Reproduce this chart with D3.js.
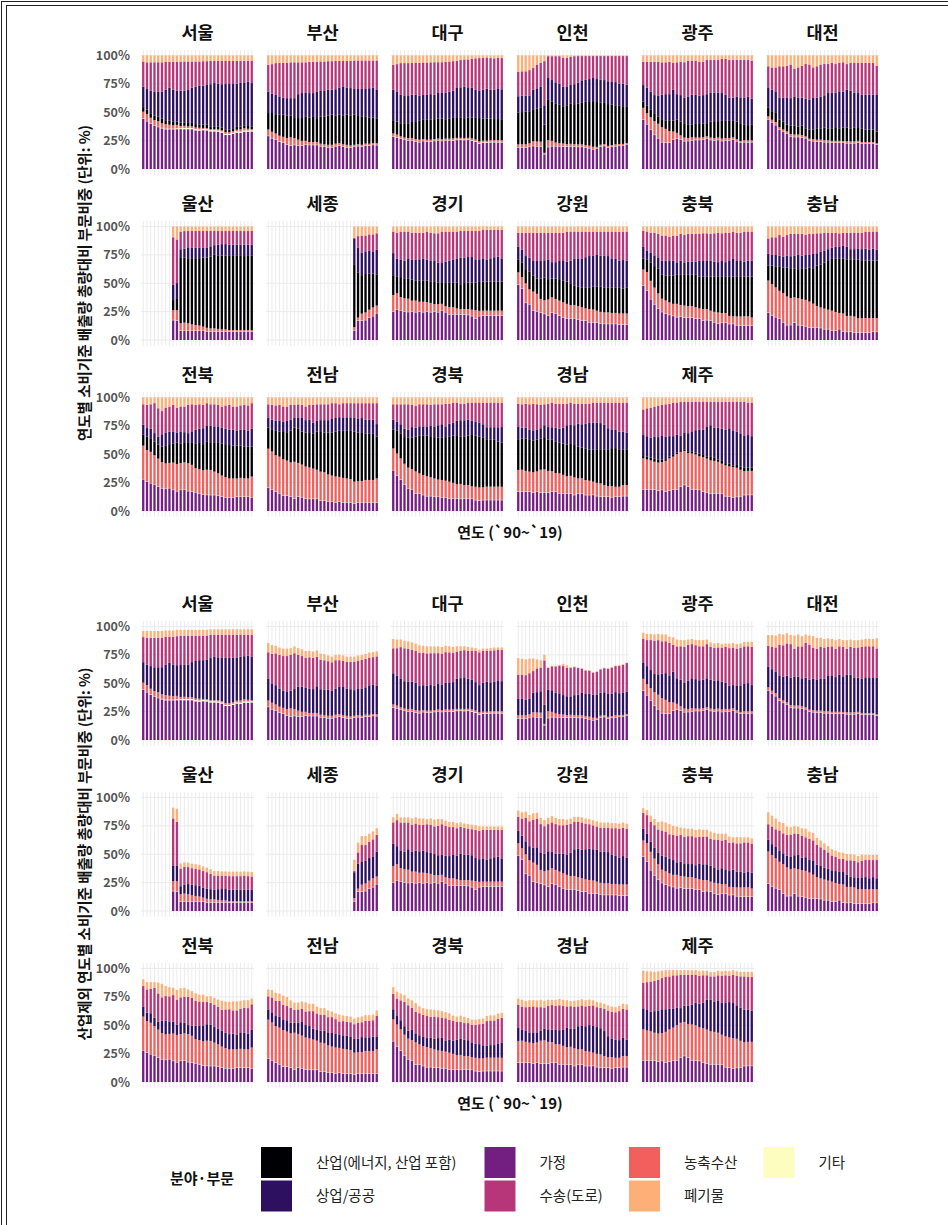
<!DOCTYPE html>
<html><head><meta charset="utf-8">
<script src="https://cdn.jsdelivr.net/npm/d3@7"></script>
<style>
body{margin:0;background:#fff}
svg text{font-family:"Noto Sans CJK KR","Noto Sans",sans-serif}
</style></head>
<body><svg id="c" width="948" height="1225"></svg>
<script>
const regions = ["서울","부산","대구","인천","광주","대전","울산","세종","경기","강원","충북","충남","전북","전남","경북","경남","제주"];
const years = [1990,1991,1992,1993,1994,1995,1996,1997,1998,1999,2000,2001,2002,2003,2004,2005,2006,2007,2008,2009,2010,2011,2012,2013,2014,2015,2016,2017,2018,2019];
const yTicks = [0,25,50,75,100];
const yTickLabels = ["0%","25%","50%","75%","100%"];
const legendNames = ["산업(에너지, 산업 포함)","상업/공공","가정","수송(도로)","농축수산","폐기물","기타"];
const legendColors = ["#000004","#2D1160","#721F81","#B63679","#F1605D","#FEAF77","#FCFDBF"];
const N = null;

// 가정
const household = [
[44,42,40,38,37,36,35,35,35,35,35,35,35,35,34,34,34,34,33,33,33,32,30,30,31,32,32,33,33,33],
[29,27,26,24,23,21.5,20.5,21,20.5,20.5,21.5,21,21,21,20,19.5,19,19,20,20.5,19.5,19,18.5,19.5,20,19.5,20.5,20.5,21,21],
[28.5,27.5,26.5,25.5,25,25,24,23.5,24.5,24,24,24.5,25,24.5,25,25,25,25.5,25.5,25.5,25.5,25,24,22.5,23,23,23.5,23.5,23.5,23.5],
[19,19,19,19.5,20,20,20,13,19.5,20,20,20,20,19.5,19.5,19.5,19,19,18.5,18,17,17.5,19.5,20,18.5,19.5,20,20.5,21,21.5],
[43.5,39.5,34.5,30,27,23.5,23,23,25.5,26.5,26,24.5,24.5,25,25.5,25.5,26,26.5,25.5,25,25.5,24.5,25,25,25.5,24.5,23,23.5,23.5,23.5],
[43.5,40.5,38.5,34.5,32.5,31,28.5,28,28,27.5,27,25,24.5,24,24,23.5,23.5,23,23,23,23,22.5,22.5,22.5,23,22,22.5,22.5,22.5,21.5],
[N,N,N,N,N,N,N,N,17.5,17,8,8,8,8,8,8,8,7.5,7.5,7.5,7.5,7.5,7.5,7.5,7.5,7.5,7.5,7.5,7.5,7.5],
[N,N,N,N,N,N,N,N,N,N,N,N,N,N,N,N,N,N,N,N,N,N,N,8.5,17,17,17.5,19.5,21,23.5],
[25,26.5,26,25,24.5,25,24.5,25,24.5,25,24.5,25,24.5,25.5,24.5,22.5,22.5,22.5,22.5,22.5,22,21,19,21,21.5,21.5,21.5,21.5,21.5,21.5],
[49,45,32.5,31.5,26,25,24,23,21.5,24,23.5,21.5,20,19,18.5,19,18,17,17,15.5,15.5,15,14.5,14,14,14,14,13.5,13.5,13.5],
[48,43.5,36,31.5,27.5,24.5,23,22,21,20,20.5,19.5,19.5,19.5,18.5,18.5,17,17.5,17,15.5,14.5,15,15,14,14,13,12.5,12.5,12.5,12.5],
[24,21.5,20,18.5,15.5,13,13,15,13,12.5,12,11,11,11,10.5,9.5,9.5,8,8,9.5,7.5,7,7.5,6.5,6.5,6.5,6.5,6.5,7,7],
[28,26,24.5,23.5,21.5,20,19.5,20,18.5,17.5,18.5,18.5,17.5,17,16.5,15.5,14.5,14,14,14,13.5,12.5,12,12,12,12.5,12.5,12.5,12.5,12],
[20.5,18.5,17,15.5,13.5,13.5,12.5,11,12.5,12,11,10.5,10.5,10.5,9,9,8,8,7.5,8,7.5,7.5,7.5,6.5,7.5,7.5,7.5,7.5,7.5,7.5],
[36,31,27.5,23,20,18.5,15,15.5,14,13,13,12.5,12.5,12,12,11,11,11,10.5,11,11,10.5,9.5,9,9.5,9.5,9.5,9.5,9.5,9.5],
[17,17,17,17,16,17,16,16,16,17,17,15.5,15.5,15.5,15,14,15,15,14,14,14,13,12.5,12.5,12.5,12,12.5,12.5,13,13],
[19,18.5,19,18.5,18,18.5,17,18,18.5,19,21.5,23,21.5,19,19,18.5,17,16,15,15.5,15.5,15,13,12.5,12,12.5,13,14,14,14]
];
// 기타
const other = [
[0.3,0.3,0.3,0.3,0.3,0.5,0.5,0.5,0.5,0.8,0.8,1,1,1,1,1,1,1,1,1,1,1,1,1,1,1,1,1,1,1],
[0.3,0.3,0.3,0.3,0.3,0.3,0.3,0.3,0.3,0.3,0.3,0.3,0.3,0.3,0.3,0.3,0.3,0.3,0.3,0.3,0.3,0.3,0.3,0.3,0.3,0.3,0.3,0.3,0.3,0.3],
[0.3,0.3,0.3,0.3,0.3,0.3,0.3,0.3,0.3,0.3,0.3,0.3,0.3,0.3,0.3,0.3,0.5,0.5,0.5,0.5,0.5,0.5,0.5,0.5,0.5,0.5,0.5,0.5,0.5,0.5],
[0.3,0.3,0.3,0.3,0.3,0.3,0.3,0.3,0.3,0.3,0.3,0.3,0.3,0.3,0.3,0.3,0.3,0.3,0.3,0.3,0.3,0.3,0.3,0.3,0.3,0.3,0.3,0.3,0.3,0.3],
[0.3,0.3,0.3,0.3,0.3,0.3,0.3,0.3,0.3,0.3,0.3,0.3,0.3,0.3,0.3,0.3,0.3,0.3,0.3,0.3,0.3,0.3,0.3,0.3,0.3,0.3,0.3,0.3,0.3,0.3],
[0.3,0.3,0.3,0.3,0.3,0.3,0.3,0.3,0.3,0.3,0.3,0.3,0.3,0.3,0.3,0.3,0.3,0.3,0.3,0.3,0.3,0.3,0.3,0.3,0.3,0.3,0.3,0.3,0.3,0.3],
[N,N,N,N,N,N,N,N,0.3,0.3,0.3,0.3,0.3,0.3,0.3,0.3,0.3,0.3,0.3,0.3,0.3,0.3,0.3,0.3,0.3,0.3,0.3,0.3,0.3,0.3],
[N,N,N,N,N,N,N,N,N,N,N,N,N,N,N,N,N,N,N,N,N,N,N,0.3,0.3,0.3,0.3,0.3,0.3,0.3],
[0.3,0.3,0.3,0.3,0.3,0.3,0.3,0.3,0.3,0.3,0.3,0.3,0.3,0.3,0.3,0.3,0.3,0.3,0.3,0.3,0.3,0.3,0.3,0.3,0.3,0.3,0.3,0.3,0.3,0.3],
[0.3,0.3,0.3,0.3,0.3,0.3,0.3,0.3,0.3,0.3,0.3,0.3,0.3,0.3,0.3,0.3,0.3,0.3,0.3,0.3,0.3,0.3,0.3,0.3,0.3,0.3,0.3,0.3,0.3,0.3],
[0.3,0.3,0.3,0.3,0.3,0.3,0.3,0.3,0.3,0.3,0.3,0.3,0.3,0.3,0.3,0.3,0.3,0.3,0.3,0.3,0.3,0.3,0.3,0.3,0.3,0.3,0.3,0.3,0.3,0.3],
[0.3,0.3,0.3,0.3,0.3,0.3,0.3,0.3,0.3,0.3,0.3,0.3,0.3,0.3,0.3,0.3,0.3,0.3,0.3,0.3,0.3,0.3,0.3,0.3,0.3,0.3,0.3,0.3,0.3,0.3],
[0.3,0.3,0.3,0.3,0.3,0.3,0.3,0.3,0.3,0.3,0.3,0.3,0.3,0.3,0.3,0.3,0.3,0.3,0.3,0.3,0.3,0.3,0.3,0.3,0.3,0.3,0.3,0.3,0.3,0.3],
[0.3,0.3,0.3,0.3,0.3,0.3,0.3,0.3,0.3,0.3,0.3,0.3,0.3,0.3,0.3,0.3,0.3,0.3,0.3,0.3,0.3,0.3,0.3,0.3,0.3,0.3,0.3,0.3,0.3,0.3],
[0.3,0.3,0.3,0.3,0.3,0.3,0.3,0.3,0.3,0.3,0.3,0.3,0.3,0.3,0.3,0.3,0.3,0.3,0.3,0.3,0.3,0.3,0.3,0.3,0.3,0.3,0.3,0.3,0.3,0.3],
[0.3,0.3,0.3,0.3,0.3,0.3,0.3,0.3,0.3,0.3,0.3,0.3,0.3,0.3,0.3,0.3,0.3,0.3,0.3,0.3,0.3,0.3,0.3,0.3,0.3,0.3,0.3,0.3,0.3,0.3],
[0.3,0.3,0.3,0.3,0.3,0.3,0.3,0.3,0.3,0.3,0.3,0.3,0.3,0.3,0.3,0.3,0.3,0.3,0.3,0.3,0.3,0.3,0.3,0.3,0.3,0.3,0.3,0.3,0.3,0.3]
];
// 농축수산
const agriculture = [
[6,6,5,5,5,4,4,3.5,3,3,2,2,1.5,1.5,1.5,1.5,1,1,1,1,1,1,1.5,1.5,1.5,1.5,2,2,1.5,1],
[5.5,5.5,5,5,5,5.5,7,6,5,4,3,2.5,2.5,2.5,2,2,2,2,2,2,2,2,2,1.5,1.5,1.5,1.5,1.5,1.5,1.5],
[2.5,2.5,2,2,2,2,2,2,1.5,1.5,1.5,1.5,1.5,1.5,1.5,1.5,1.5,1.5,1.5,1.5,1.5,1.5,1.5,1.5,1.5,1.5,1.5,1.5,1.5,1.5],
[2.5,2.5,2.5,3,4,4,4,1,6,4.5,3,2.5,2.5,2,2,2,2,2,2,2,2,1.5,1.5,1.5,1.5,1.5,1.5,1.5,1,1],
[10,9.5,11,12,12.5,13,12,10,7,5,3.5,3,2.5,2.5,2,2,2,2,2,2,2,2,2,2,2,1.5,1.5,1.5,1.5,1.5],
[2.5,2.5,2.5,2,2,2,2,2,2,2,1.5,1.5,1.5,1.5,1.5,1.5,1.5,1.5,1.5,1.5,1.5,1.5,1.5,1.5,1.5,1.5,1,1,1,1],
[N,N,N,N,N,N,N,N,8.5,9,6.5,7,6.5,5.5,5,4.5,3.5,3,2.5,2.5,2,1.5,1.5,1,1,1,1,1,1,0.8],
[N,N,N,N,N,N,N,N,N,N,N,N,N,N,N,N,N,N,N,N,N,N,N,2.5,2.5,6,6.5,7,7.5,6.5],
[14.5,14.5,11.5,11.5,11.5,9.5,10,8.5,9,8,8,6.5,7,6,5,6,6,5,4.5,4.5,5,5.5,7,4.5,4,4,4,4,4,4],
[10.5,10,17,13,16.5,15.5,12,12,14,13.5,12.5,13,13,12.5,12,11.5,11.5,11.5,10.5,11.5,11,10.5,10,10,10,9.5,9.5,9.5,9.5,9.5],
[14,16,16,14.5,13,11.5,11.5,11,10.5,11.5,10,10.5,10,10,10,9,10,9.5,8.5,9,9.5,8.5,8.5,7,6.5,7.5,8,8,8,7],
[28,27.5,26,24.5,25.5,25,23.5,22,23.5,23,23,22.5,20.5,18.5,18,18,17,17.5,16.5,14,15.5,14,13.5,14,12.5,12.5,12.5,12.5,12,12],
[29.5,27.5,27.5,25.5,24.5,23,22.5,22,24,24,23.5,24,24.5,23.5,21,21,21,22,22,20.5,19.5,18.5,17.5,16.5,16.5,16,16.5,16,16,18],
[34,33.5,32,32,32,30.5,30,32,29.5,28.5,28,27.5,26.5,25.5,25.5,25,24,23,22.5,22,21.5,21,20.5,19,18.5,18.5,19.5,19.5,19.5,21],
[19,19.5,18.5,18.5,18,18,19.5,17.5,17.5,17.5,16.5,16,15,15,14.5,14.5,13.5,12.5,13,11.5,11.5,11,11.5,11.5,11,11.5,11.5,11.5,11.5,11.5],
[19,19,18,17.5,18,18,20,20.5,19,17.5,16,17.5,16,15,15.5,15.5,13.5,13.5,13,12.5,11.5,11.5,11.5,10,9,9.5,8.5,8.5,9.5,9.5],
[27,26.5,25.5,24.5,24.5,24.5,27,28,29,31,30.5,30,29.5,31.5,31,29.5,30.5,30,29.5,28.5,27.5,26.5,27,27,26.5,26,23.5,21,21,21]
];
// 산업(에너지, 산업 포함)
const industry = [
[4,4,4,4,4,4,3.5,3.5,3.5,3,3,3,3,3,3,3,3,3,2.5,2.5,2.5,2.5,2.5,2.5,2.5,2.5,2.5,2.5,2.5,2.5],
[14.5,16.5,17,18.5,19.5,19.5,19,17.5,19,20,21.5,21.5,22,21,24,24.5,25.5,26.5,25,25,25.5,26.5,26.5,26.5,25.5,25,24,23,22.5,22],
[11,11.5,11.5,12.5,13,14,15,16.5,17,17.5,17.5,17.5,17.5,18,17,17.5,18,17.5,17.5,17.5,18,18.5,19,20.5,19.5,19.5,19,18.5,18.5,18.5],
[28,28.5,29,28.5,28,29,30,25,36.5,34.5,34.5,34,33.5,34,35,35,35.5,36,38,38,39.5,39,37,36,36.5,36,34.5,34.5,33.5,31.5],
[5.5,6.5,6.5,7,6.5,7,7,9,9.5,11.5,12,12,11.5,11,12,12,12,11.5,14,15,14.5,15.5,15,15,14.5,15.5,15,13.5,13.5,13.5],
[7.5,7.5,8,6.5,7,6,7.5,8,7,8.5,7,8,8.5,10,10,11,10.5,11,12,11,12,12,11.5,12,12,11.5,11,11,11,10.5],
[N,N,N,N,N,N,N,N,9,10,58,57,57.5,58.5,59,59.5,61,62,63.5,65,65,65,65,65.5,65.5,65.5,65.5,65,65.5,66],
[N,N,N,N,N,N,N,N,N,N,N,N,N,N,N,N,N,N,N,N,N,N,N,55,40,34,34,32,30,27],
[17.5,14.5,17.5,17.5,17.5,18.5,17.5,18.5,18.5,19,18.5,19.5,19,19,20.5,21.5,21.5,22.5,22,23,23.5,24,24.5,25.5,25.5,25.5,25.5,25.5,25.5,25.5],
[11.5,13,12.5,15.5,14,13.5,18,20,18,16.5,18,19,19,19.5,18.5,17,17,17.5,18.5,19,20,21,22,22,22,22.5,22.5,23,22,23],
[9.5,11,16,19,21.5,21,22,23.5,25,25.5,26.5,27,27.5,27.5,28.5,28,28.5,28.5,30,31,32,32,32,34.5,35,35,35,35,35,36],
[13,16,18.5,21.5,22.5,25.5,26,25,25.5,27,27.5,30,31,35.5,38,40.5,43,45.5,47,48,48.5,50,50,50.5,52,50.5,50.5,50.5,50.5,50.5],
[9.5,12,12,12,12.5,13.5,15.5,16.5,17,19,17.5,17,18.5,20,22,23,23,24.5,24.5,26,27.5,28.5,29,29.5,29,29,28.5,28,28,26.5],
[18.5,19,21.5,22,24,25,28,30,30,29,30,31,31,33.5,35,35,37,38,39.5,41,41.5,42,42.5,44,43,42,41,41,40.5,37],
[16.5,20.5,22,23.5,26.5,28,30.5,33.5,35,36,36,36.5,37,37.5,38.5,39.5,41.5,42.5,41.5,42.5,43.5,45,45,44.5,44,41.5,41,41,39.5,39],
[26.5,27.5,28.5,28,28,28.5,27.5,28.5,27.5,27.5,27.5,27,27.5,28,28.5,28.5,28,27,28,27.5,28,29.5,30,31,32.5,33.5,34,33,31,31.5],
[2,2.5,2.5,3,2.5,2,1.5,1.5,1.5,1.5,1.5,1.5,1.5,1.5,1.5,2.5,2,2,3,3,2,2.5,2,2.5,1.5,2.5,3,3,3,3]
];
// 상업/공공
const commercial = [
[18,18,20,21,22,24,27,29,28,27,28,28,29,31,33,34,34,35,37,38,38,38,40,40,39,38,38.5,38,39,38],
[19,17,17,16,15,15.5,15.5,17.5,21,22,21,21.5,21,23.5,22.5,22.5,23,22,23,24,25.5,24,24,22.5,23,24,24,26,26,25],
[27.5,26.5,25,24,24,24,24,22,22,22,22.5,21.5,22.5,22.5,23.5,24,24,26.5,27,28,26.5,26,25,24,25.5,26.5,25.5,26,26.5,26.5],
[14.5,14.5,14,14,17,18,19,17,19,19,18.5,18.5,17.5,16.5,16,17.5,18,19.5,19.5,20,20,20,20,20,20,20,20.5,19.5,20,19.5],
[14.5,16,16,16,18,21.5,23.5,23.5,27,22.5,23.5,23,25,26.5,26,25,25,25.5,25.5,25,25,24.5,23,20.5,20.5,22,23.5,24,25,23],
[18,19,19,19.5,21,23.5,24,25.5,25.5,24.5,26,26.5,28,27,28,28.5,31,31.5,30.5,32.5,31.5,33,33,30.5,30,30,31,31,31,32.5],
[N,N,N,N,N,N,N,N,13.5,14,7,8,9,9.5,9.5,9.5,9,9,9,8.5,9.5,10,10,10,10,10,10,10,10,10],
[N,N,N,N,N,N,N,N,N,N,N,N,N,N,N,N,N,N,N,N,N,N,N,23,22,20,20,20,19.5,22],
[19.5,16,15.5,15.5,18,17.5,18.5,19,19.5,18.5,18.5,18.5,17.5,17.5,19,19.5,20.5,21,23.5,22.5,22.5,22.5,20.5,20,20.5,19.5,20.5,21.5,22,20.5],
[11,11,11.5,12.5,13,15.5,15.5,15.5,17,14.5,14.5,16,17.5,17.5,20.5,23.5,25,25,26.5,27.5,27.5,28,27.5,28,27.5,25.5,25,23.5,25,23.5],
[10.5,8,9,9.5,10,12.5,13,13,13,11,12.5,11,11.5,11.5,11.5,14,14,14,14,13,12.5,14,13,14,15.5,14,14,13,14,14],
[10.5,9.5,10,9.5,9.5,10.5,10.5,11.5,12.5,11,12,11,12.5,11,11,10.5,10.5,10,10.5,10.5,11,11,9,9,10,10.5,10.5,9.5,10.5,9.5],
[9,7.5,8.5,7.5,7,11,12,11,10.5,9,10.5,9.5,8,9,12,12.5,14,14.5,14.5,14,14,14,13.5,13.5,14,13,14,14.5,14,15.5],
[9,9,9,9.5,9,10,9.5,9,10,12,11,11,9.5,9.5,10.5,11,11,12,12,12,12,12,12,12.5,12,13,12,12,12.5,11],
[9,7.5,8,7.5,7,9,8,8,8,8,9,9.5,11,11.5,9.5,11.5,11.5,13.5,14.5,14.5,14,12.5,12.5,12.5,11.5,10.5,11,11,12.5,13.5],
[12,9.5,9.5,9,9,9,9,10.5,11,11,12.5,12.5,14,17,16,17.5,20.5,20.5,22,23.5,24,23.5,23,22,18.5,16.5,16,15.5,16,14.5],
[18.5,18,17.5,19,20,21,20,18,16.5,15.5,13,14.5,16,17.5,20,21,22.5,26.5,28,26.5,28,28.5,29.5,31.5,31,30,29.5,28.5,28.5,27.5]
];
// 수송(도로)
const transport = [
[22,23.5,25,26,26,26,24.5,23,24.5,25.5,25.5,25.5,25,23,22,21.5,21.5,21,20.5,19.5,20,20.5,20.5,20.5,20.5,20,19.5,19,18.5,19.5],
[23.5,26,28,29.5,30.5,31,31.5,31.5,28,27,26.5,27.5,27.5,26,26,26,25,25,25,23.5,22.5,23.5,24,25,25,25,25,24.5,24,26],
[22,24,28,29,29,28,28,29,28.5,28.5,28,28.5,27,27,27,26.5,26,24,24,24,24.5,25.5,27.5,29,28,27.5,28,27.5,27.5,27.5],
[21.5,21.5,21.5,22.5,19,21,21,39,19.5,21,23,24.5,26,25,24.5,24.5,23,21,20.5,20,19,20,20.5,21,22,23,23,24.5,24.5,25],
[20.5,23,26.5,29.5,30,28.5,28,28.5,23.5,28,29.5,31.5,31.5,30,30,30,29.5,30,29,29,29,30,31.5,33,33,32.5,33,33,32.5,33.5],
[18.5,19.5,21,27.5,27.5,28.5,29.5,24.5,26.5,28,30.5,31,27,27.5,28,27.5,25.5,26,25,25,26,22.5,24.5,26,26.5,28,28,28,28,26],
[N,N,N,N,N,N,N,N,42,38.5,15.5,15.5,15,14.5,14.5,14.5,14.5,14.5,13.5,12.5,12,11.5,11.5,12,12,12,12,12,12,12],
[N,N,N,N,N,N,N,N,N,N,N,N,N,N,N,N,N,N,N,N,N,N,N,1,10,15,14,14.5,15,14.5],
[19,23,24.5,25.5,23.5,24,24,23.5,23,24.5,25,24.5,26,27,26.5,25.5,24.5,24,23.5,23.5,23,23,25,25,25,26,25,24,23.5,25],
[12.5,15,20.5,22,25,25,25,24.5,24,26,26,25,25,26.5,25.5,24,23.5,24,22.5,21.5,21,20.5,21,21,21.5,23.5,24,25.5,25,25.5],
[14,16.5,17.5,20,20.5,22,22,21.5,22,23.5,23.5,24,24.5,24.5,24.5,23.5,24.5,24.5,23.5,25,26,24.5,26,25,24,25,25,26.5,25.5,25.5],
[13.5,15.5,15.5,18,17.5,18,19.5,19,18.5,19,17.5,18.5,17.5,17.5,16.5,16,14.5,13,12.5,11.5,11.5,12.5,14.5,14.5,14,14.5,15,16,15,16],
[18,20.5,21.5,26.5,25,20.5,22,22,23.5,22,22,22.5,25,24.5,22,21.5,20.5,19.5,19,19.5,19,18.5,20.5,22,20.5,21.5,21.5,22,22.5,22.5],
[11.5,13,13.5,14,13.5,12.5,13,11,11.5,11.5,12,13,15.5,14.5,14,14,14,14,13,11.5,12.5,12.5,12.5,12.5,14,13,14.5,14.5,14.5,18.5],
[13.5,15.5,17.5,21.5,22.5,19.5,19,19.5,19.5,19.5,18.5,19.5,18.5,17.5,20,17.5,17.5,16,14.5,14.5,15,16,16.5,17.5,19,21.5,21.5,21.5,21.5,21.5],
[20,20.5,21,22.5,23.5,22.5,20.5,18.5,20.5,21.5,21,22,21,19,19.5,19,17.5,18,17.5,17,17.5,17.5,18,19.5,22.5,23.5,24,25.5,25.5,26.5],
[22.5,24.5,26.5,26.5,27.5,27.5,28.5,28.5,29.5,28.5,29.5,27.5,27.5,26.5,25,24.5,24.5,21.5,20.5,22.5,22.5,23.5,24.5,23.5,25,26.5,28,29.5,28.5,29.5]
];
// 폐기물
const waste = [
[5.3,6,6,6,6,6,5.5,5.5,5.5,5.5,5.3,5.3,5.3,5.3,5.3,5.3,5,5,4.7,4.7,4.7,4.7,4.7,4.7,4.7,4.7,4.7,4.7,4.7,4.7],
[8.2,7.6,6.7,6.5,6.5,6.5,6,6,6,6,6,5.6,5.6,5.6,5.3,5.3,5,5,4.7,4.7,4.7,4.7,4.7,4.4,4.4,4.4,4.4,4.4,4.4,4.4],
[8.2,7.6,6.7,6.7,6.7,6.5,6.5,6.5,6.2,6.2,6,5.9,5.9,5.9,5.6,5.3,5,4.7,4,3.5,3.5,3,2.5,2.3,2,1.8,2.3,2.5,2,2.3],
[14.5,14,14,13,11,8,6.5,5,0.6,0.6,0.6,0.6,2,2,1,0.6,0.5,0.5,0.5,0.5,0.5,0.5,0.5,0.5,0.5,0.5,0.5,0.5,0.5,0.5],
[5.5,5.5,5.5,5.5,5.5,6,6,5.5,6.5,6,5.5,6,4.5,4.5,4.5,5.5,5.5,4,4,4,4,3,3,4,4,4,4,4,4,4.5],
[9.5,10.5,10.5,9.5,9.5,9,8,11.5,10.5,9,7.5,8,10.5,9.5,8,7.5,7.5,6.5,7.5,6.5,6,7.5,6.5,6.5,6.5,6.5,6.5,6.5,6.5,9],
[N,N,N,N,N,N,N,N,9.5,11.5,4.5,4,4,4,4,4,4,4,4,4,4,4,4,4,4,4,4,4,4,4],
[N,N,N,N,N,N,N,N,N,N,N,N,N,N,N,N,N,N,N,N,N,N,N,10,8.5,8,8,7,7,6],
[4.5,5.5,4.5,4.5,4.5,5.5,5.5,5.5,5.5,4.5,5.5,6,6,4.5,4.5,4.5,4.5,4.5,4,4,4,4,4,4,3,3,3,3,3,3],
[5.5,5.5,5.5,5.5,5.5,5.5,5.5,5.5,5.5,5.5,5.5,5.5,5.5,4.5,4.5,4.5,4.5,4.5,4.5,4.5,4.5,4.5,4.5,4.5,4.5,4.5,4.5,4.5,4.5,4.5],
[4,4.5,5.5,5.5,6.5,8,8,9,8,8,6.5,7.5,6.5,6.5,6.5,6.5,6,6,6.5,6,5.5,6,5.5,5.5,4.5,5.5,5.5,4.5,4.5,4.5],
[10.5,9.5,9.5,7.5,9,7.5,6.5,6.5,6.5,6.5,7.5,6.5,6.5,6,6,5.5,5.5,5.5,5.5,6,5.5,5.5,5.5,5.5,5.5,5.5,4.5,4.5,4.5,4.5],
[6,6.5,6,5,9.5,12,9,8,6.5,9,8,8,6.5,6,6.5,6,6.5,5,6,6,6.5,8,7,6.5,8,8,7,6.5,7,5],
[6,6.5,7,6.5,8,8,6.5,6.5,6,6.5,8,6.5,6.5,6,6,6,6,5,5,6,5,5,5,5,5,5,5,5,5,5],
[6,6,6,6,6,6.5,7.5,6,6,6,6.5,6,6,6,5.5,5.5,4.5,4.5,5.5,5.5,4.5,4.5,4.5,4.5,4.5,4.5,4.5,4.5,4.5,4.5],
[5.5,6,5.5,6,5.5,6,6.5,6,5.5,4.5,5.5,5.5,5.5,5.5,4.5,5.5,5.5,5.5,5.5,5.5,4.5,4.5,4.5,4.5,4.5,4.5,4.5,4.5,4.5,4.5],
[10.5,9.5,9,8,7.5,6.5,6,5.5,4.5,4.5,4,4,4,4,4,4,4,4,4,4,4,4,4,4,4,4,4,4,4.5,4.5]
];

// stacking order, bottom to top
const stackSeries = [
  {key:"가정", data:household, color:legendColors[2]},
  {key:"기타", data:other, color:legendColors[6]},
  {key:"농축수산", data:agriculture, color:legendColors[4]},
  {key:"산업", data:industry, color:legendColors[0]},
  {key:"상업/공공", data:commercial, color:legendColors[1]},
  {key:"수송(도로)", data:transport, color:legendColors[3]},
  {key:"폐기물", data:waste, color:legendColors[5]}
];

const svg = d3.select("#c");
const FONT = '"Noto Sans CJK KR","Noto Sans",sans-serif';
const panelW = 113, colStep = 125, left0 = 141;
const row100 = [55.5, 226.5, 397.5], rowH = 113.5;

// frame (double line at left and top; right and bottom run past the picture)
svg.append("rect").attr("x",1.5).attr("y",1.5).attr("width",1000).attr("height",1300).attr("fill","none").attr("stroke","#222").attr("stroke-width",1);
svg.append("rect").attr("x",6.5).attr("y",5.5).attr("width",1000).attr("height",1300).attr("fill","none").attr("stroke","#222").attr("stroke-width",1);

function drawChart(dy, withIndustry, yTitle) {
  const keys = stackSeries.filter(s => withIndustry || s.key !== "산업");
  regions.forEach((reg, ri) => {
    const col = ri % 6, row = Math.floor(ri / 6);
    const px = left0 + col * colStep;
    const y = d3.scaleLinear().domain([0,100]).range([row100[row] + rowH + dy, row100[row] + dy]);
    const x = d3.scaleBand().domain(years).range([px, px + panelW]).paddingInner(0.38).paddingOuter(0.29);
    const g = svg.append("g");
    g.selectAll("line.h").data(yTicks).join("line")
      .attr("x1", px).attr("x2", px + panelW).attr("y1", d => y(d)).attr("y2", d => y(d))
      .attr("stroke", "#ebebeb").attr("stroke-width", 1);
    g.selectAll("line.v").data(years).join("line")
      .attr("x1", d => x(d) + x.bandwidth()/2).attr("x2", d => x(d) + x.bandwidth()/2)
      .attr("y1", y(-5)).attr("y2", y(105))
      .attr("stroke", "#ebebeb").attr("stroke-width", 1);
    const rows = [];
    years.forEach((yr, i) => {
      if (household[ri][i] == null) return;
      const total = d3.sum(stackSeries, s => s.data[ri][i]);
      const o = {year: yr};
      stackSeries.forEach(s => { o[s.key] = s.data[ri][i] / total * 100; });
      rows.push(o);
    });
    const stacked = d3.stack().keys(keys.map(k => k.key))(rows);
    stacked.forEach((layer, li) => {
      g.append("g").attr("fill", keys[li].color).selectAll("rect").data(layer).join("rect")
        .attr("x", d => x(d.data.year)).attr("width", x.bandwidth())
        .attr("y", d => y(d[1])).attr("height", d => Math.max(0, y(d[0]) - y(d[1])));
    });
    g.append("text").attr("x", px + panelW/2).attr("y", row100[row] + dy - 17)
      .attr("text-anchor","middle").attr("font-size", 17.5).attr("font-weight", 700).attr("fill","#111").text(reg);
    if (col === 0) {
      const ax = g.append("g").attr("transform", `translate(${px},0)`)
        .call(d3.axisLeft(y).tickValues(yTicks).tickFormat((d,i) => yTickLabels[i]).tickSize(0).tickPadding(11));
      ax.select(".domain").remove();
      ax.selectAll("text").attr("font-family", FONT).attr("font-size", 12.5).attr("font-weight", 700).attr("fill", "#555");
    }
  });
  svg.append("text").attr("x", 510).attr("y", 538 + dy).attr("text-anchor","middle")
    .attr("font-size", 15).attr("font-weight", 700).attr("fill","#111").text("연도 (`90~`19)");
  svg.append("text").attr("transform", `translate(90,${283 + dy}) rotate(-90)`).attr("text-anchor","middle")
    .attr("font-size", 14.5).attr("font-weight", 700).attr("fill","#111").text(yTitle);
}

drawChart(0, true, "연도별 소비기준 배출량 총량대비 부문비중 (단위: %)");
drawChart(571, false, "산업제외 연도별 소비기준 배출량 총량대비 부문비중 (단위: %)");

// legend
const lg = svg.append("g");
lg.append("text").attr("x", 170).attr("y", 1184).attr("font-size", 15).attr("font-weight", 700).attr("fill","#111").text("분야·부문");
const legendCols = [261, 484.5, 629, 763.5];
legendNames.forEach((nm, i) => {
  const c = Math.floor(i / 2), r = i % 2;
  const sx = legendCols[c], sy = 1147 + r * 33.5;
  lg.append("rect").attr("x", sx).attr("y", sy).attr("width", 31).attr("height", 31).attr("fill", legendColors[i]);
  lg.append("text").attr("x", sx + 55).attr("y", sy + 15.5).attr("dy","0.35em").attr("font-size", 14.5).attr("fill","#222").text(nm);
});
</script></body></html>
